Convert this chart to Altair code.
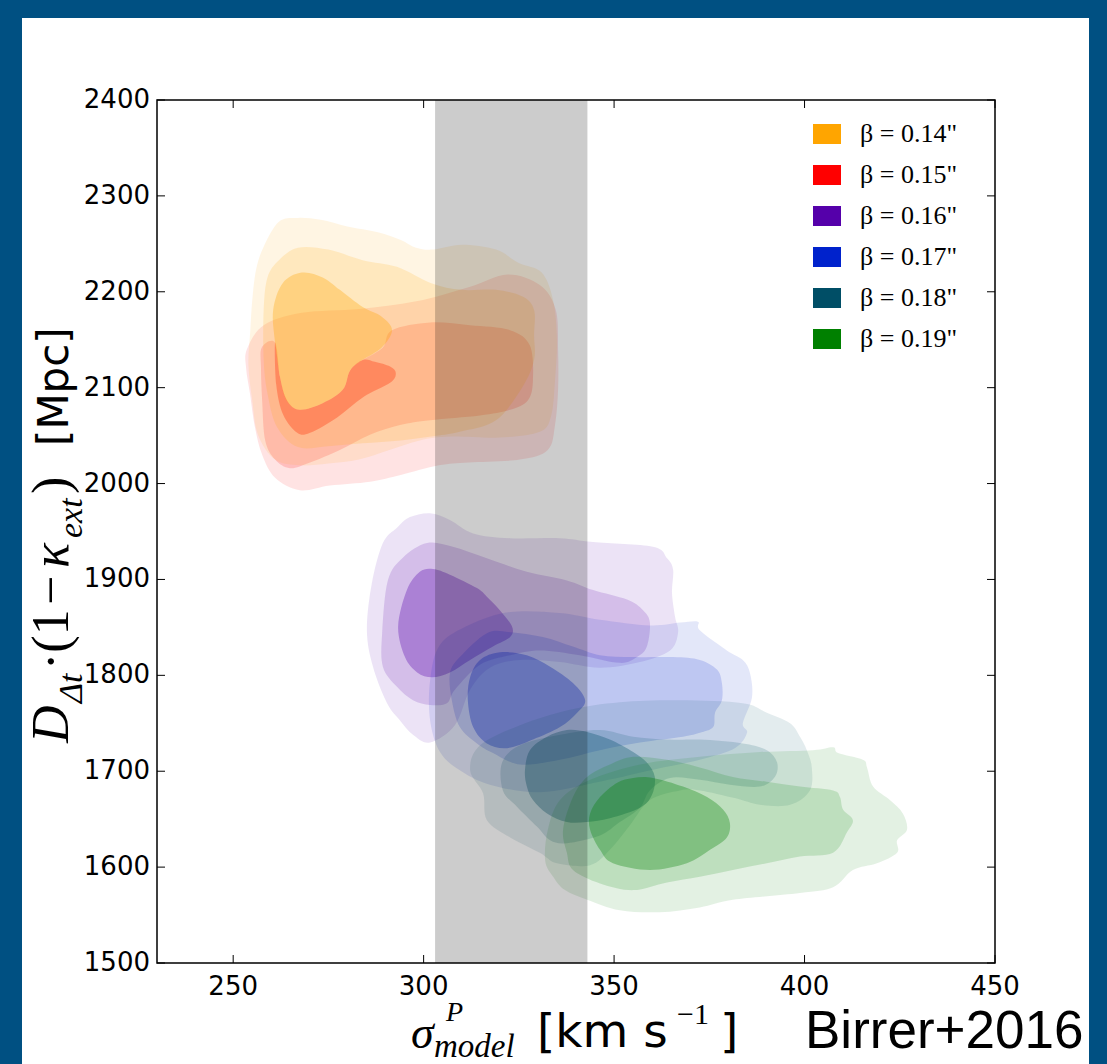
import altair as alt
import pandas as pd

# ---------------- data ----------------
X_TICKS = [250, 300, 350, 400, 450]
Y_TICKS = [1500, 1600, 1700, 1800, 1900, 2000, 2100, 2200, 2300, 2400]
X_DOMAIN = [230, 450]
Y_DOMAIN = [1500, 2400]
BAND = [303, 343]  # sigma_obs band [km/s]

LABELS = ['β = 0.14"', 'β = 0.15"', 'β = 0.16"', 'β = 0.17"', 'β = 0.18"', 'β = 0.19"']
COLORS = ["#ffa500", "#ff0000", "#5500aa", "#0022cc", "#004e66", "#008000"]

# contour polygons (sigma [km/s], D_dt [Mpc]) ; outer = 99%, mid = 95%, inner = 68%
B14_OUTER = [(258, 2247), (262, 2273), (267, 2277), (273, 2275), (280, 2268), (288, 2262), (294, 2254),
             (298, 2246), (302.5, 2244), (310, 2249), (319, 2244), (325, 2230), (331, 2220), (334, 2191),
             (335, 2150), (334.5, 2108), (333.5, 2071), (330.5, 2054), (320, 2048), (307, 2049), (299, 2045),
             (291, 2035), (283, 2025), (275, 2021), (267.5, 2019), (261, 2025), (256.5, 2051), (255, 2087),
             (254, 2124), (254.5, 2160), (255, 2191), (256, 2223)]
B14_MID = [(259, 2215), (262, 2233), (267, 2246), (275, 2244), (284, 2233), (293, 2226), (302, 2209),
           (310, 2202), (319, 2202), (326, 2195), (329, 2181), (329, 2155), (329, 2129), (326, 2101),
           (319, 2066), (309.5, 2054), (302, 2049), (294, 2045), (284, 2042), (275, 2039), (267, 2038),
           (261.5, 2059), (259, 2094), (258, 2129), (258, 2181)]
B14_INNER = [(260.5, 2181), (263, 2209), (268, 2220), (273.5, 2215), (278, 2202), (284, 2184), (289, 2174),
             (291.7, 2160), (289, 2142), (284, 2129), (280.7, 2118), (278.8, 2098), (273.6, 2084),
             (267.5, 2077), (264, 2087), (262.3, 2111), (261, 2147)]

B15_OUTER = [(253.6, 2140), (258, 2165), (268, 2178), (283, 2182), (298, 2190), (312, 2205), (322, 2218),
             (330.5, 2207), (334.7, 2181), (335.3, 2139), (335.3, 2098), (334.5, 2061), (332.6, 2035),
             (325.3, 2025), (312, 2022), (304, 2019), (294, 2009), (286, 2002), (275.4, 1998), (267.5, 1993),
             (261, 2006), (257.6, 2030), (255.7, 2059), (254.4, 2094), (253.4, 2120)]
# visible parts of the 95% / 68% regions (hidden above under the 0.14 core)
B15_MID = [(257.5, 2142), (261, 2147), (262.3, 2111), (264.1, 2087), (267.5, 2077), (273.6, 2084),
           (278.8, 2098), (280.7, 2118), (284.1, 2129), (289.3, 2142), (291.7, 2160), (301.7, 2168),
           (312.2, 2165), (322.7, 2160), (327.9, 2144), (328.7, 2108), (327.4, 2087), (322.7, 2077),
           (314.8, 2071), (301.7, 2066), (293.8, 2061), (285.9, 2051), (278, 2035), (270.2, 2022),
           (264.9, 2016), (261, 2025), (258.4, 2045), (257.6, 2087), (257.3, 2120)]
B15_INNER = [(261, 2147), (262.3, 2111), (264.1, 2087), (267.5, 2077), (273.6, 2084), (278.8, 2098),
             (280.7, 2118), (284.1, 2129), (287.2, 2127), (291.2, 2122), (292.7, 2115), (291.2, 2105),
             (284.1, 2090), (277.3, 2069), (270.2, 2053), (266.8, 2053), (263.1, 2072), (261.3, 2103)]

B16_OUTER = [(285.1, 1847), (286.4, 1896), (289.3, 1938), (293, 1954), (296.4, 1965), (301.7, 1969),
             (306.9, 1962), (313, 1948), (322.7, 1943), (335.8, 1943), (344.5, 1939), (360.2, 1934),
             (363.9, 1922), (365.5, 1910), (365.2, 1886), (366, 1861), (366.8, 1845), (364.7, 1826),
             (356.8, 1814), (346.3, 1808), (335.8, 1814), (325.3, 1816), (317.4, 1808), (312.2, 1785),
             (308.2, 1748), (301.7, 1730), (297.2, 1738), (293.8, 1753), (290.4, 1771), (286.7, 1809)]
B16_MID = [(289.1, 1844), (290.6, 1899), (294.6, 1923), (300.9, 1938), (307.7, 1934), (316.6, 1922),
           (327.1, 1908), (337.6, 1899), (344.5, 1889), (353.4, 1879), (357.6, 1868), (359.4, 1855),
           (358.6, 1830), (356, 1819), (351.5, 1813), (341, 1821), (330.5, 1826), (322.7, 1821),
           (314.8, 1811), (308.2, 1785), (306.1, 1771), (301.7, 1769), (297.2, 1774), (293, 1788),
           (289.3, 1809)]
B16_INNER = [(293.3, 1851), (295.6, 1889), (299, 1908), (302.5, 1911), (306.9, 1905), (314, 1891),
             (316.6, 1882), (320, 1868), (323.2, 1851), (322.7, 1840), (318.2, 1830), (312.2, 1816),
             (306.9, 1803), (302.2, 1798), (298.3, 1803), (295.1, 1819)]

B17_OUTER = [(301.7, 1795), (304.3, 1832), (312.2, 1853), (322.7, 1866), (335.8, 1865), (346.3, 1858),
             (359.4, 1852), (367.3, 1855), (372, 1856), (372.5, 1847), (379.6, 1826), (383.8, 1816),
             (385.7, 1802), (386.2, 1777), (383.8, 1750), (384.9, 1740), (381.7, 1724), (372.5, 1712),
             (362, 1703), (346.3, 1689), (330.5, 1678), (317.4, 1686), (309.5, 1701), (304.3, 1720),
             (301.7, 1753)]
B17_MID = [(306.9, 1802), (309.5, 1819), (316.6, 1844), (322.7, 1845), (331.3, 1840), (339.2, 1830),
           (346.3, 1821), (355, 1819), (365.5, 1819), (372.5, 1816), (377, 1806), (378.3, 1792),
           (378.3, 1774), (376.5, 1761), (376, 1746), (372.5, 1740), (368.1, 1736), (356.8, 1730),
           (346.3, 1722), (335.8, 1712), (325.3, 1707), (318.2, 1719), (314, 1729), (309.5, 1746),
           (307.4, 1774)]
B17_INNER = [(311.6, 1774), (312.2, 1798), (314.8, 1816), (320, 1824), (327.1, 1821), (333.2, 1809),
             (339.2, 1792), (342.4, 1774), (340.3, 1761), (335.8, 1746), (328.7, 1733), (321.9, 1724),
             (316.6, 1729), (313, 1746)]

B18_OUTER = [(312.2, 1701), (314.8, 1727), (325.3, 1748), (338.4, 1764), (351.5, 1772), (367.3, 1774),
             (383.8, 1771), (390.1, 1761), (396.2, 1750), (398.8, 1736), (400.6, 1722), (401.9, 1704),
             (401.4, 1680), (396.2, 1665), (388.3, 1665), (381.7, 1672), (372.5, 1680), (367.3, 1680),
             (359.4, 1670), (354.2, 1644), (348.9, 1618), (343.7, 1602), (335, 1604), (330.5, 1615),
             (322.7, 1631), (316.6, 1649), (315.6, 1677)]
B18_MID = [(320.6, 1709), (325.3, 1727), (335.8, 1738), (346.3, 1743), (355, 1736), (363.9, 1733),
           (372.5, 1733), (383.8, 1729), (390.1, 1722), (392.8, 1709), (392.2, 1694), (388.3, 1684),
           (380.4, 1686), (372.5, 1691), (364.7, 1693), (359.4, 1680), (356.8, 1662), (351.5, 1647),
           (346.3, 1633), (337.6, 1625), (333.2, 1628), (329.8, 1642), (324.5, 1663), (320.8, 1680)]
B18_INNER = [(326.6, 1701), (327.9, 1722), (332.4, 1736), (337.6, 1743), (342.9, 1741), (348.9, 1733),
             (355, 1720), (358.6, 1709), (360.7, 1694), (359.9, 1675), (356.8, 1662), (348.9, 1651),
             (342.9, 1647), (337.6, 1647), (332.4, 1656), (328.7, 1670), (327.1, 1684)]

B19_OUTER = [(331.9, 1607), (332.6, 1639), (335.8, 1670), (343.7, 1691), (356.8, 1707), (372.5, 1715),
             (388.3, 1720), (402.2, 1722), (407.5, 1725), (408.8, 1719), (415.3, 1712), (416.4, 1704),
             (418, 1684), (422.4, 1670), (425.8, 1656), (426.9, 1639), (424.3, 1628), (424.3, 1615),
             (419, 1604), (412.7, 1597), (407.5, 1579), (398.8, 1573), (381.2, 1566), (372.5, 1558),
             (362, 1553), (351.5, 1555), (342.9, 1566), (337.1, 1576), (334, 1590)]
B19_MID = [(336.6, 1639), (339.2, 1673), (342.9, 1694), (348.9, 1707), (355, 1715), (363.9, 1712),
           (372.5, 1704), (381.2, 1694), (390.1, 1689), (398.8, 1684), (407.5, 1680), (409.3, 1673),
           (410.1, 1660), (412.7, 1649), (411.1, 1636), (407.5, 1615), (398.8, 1611), (390.1, 1604),
           (381.2, 1597), (372.5, 1590), (363.9, 1584), (355, 1576), (346.3, 1583), (339.2, 1597),
           (337.6, 1615)]
B19_INNER = [(343.7, 1656), (346.3, 1673), (350.8, 1688), (355, 1693), (360.2, 1693), (368.1, 1684),
             (374.4, 1673), (378.6, 1660), (380.4, 1646), (379.6, 1631), (375.2, 1618), (369.1, 1604),
             (359.4, 1597), (349.7, 1604), (346.3, 1618), (343.7, 1639)]

CONTOURS = [
    (B14_OUTER, B14_MID, B14_INNER),
    (B15_OUTER, B15_MID, B15_INNER),
    (B16_OUTER, B16_MID, B16_INNER),
    (B17_OUTER, B17_MID, B17_INNER),
    (B18_OUTER, B18_MID, B18_INNER),
    (B19_OUTER, B19_MID, B19_INNER),
]

# ---------------- styling ----------------
LEVEL_OPACITY = [0.11, 0.16, 0.32]  # outer, mid, inner fill alpha
DRAW_RANK = [1, 0, 2, 3, 4, 5]      # 0.15 first, then 0.14, then 0.16 ... 0.19

rows = []
for bi, polys in enumerate(CONTOURS):
    for li, pts in enumerate(polys):
        pid = f"{DRAW_RANK[bi]}{li}"
        for i, (xv, yv) in enumerate(pts):
            rows.append({"beta": LABELS[bi], "op": LEVEL_OPACITY[li], "pid": pid, "i": i, "x": xv, "y": yv})
contour_df = pd.DataFrame(rows).sort_values(["pid", "i"]).reset_index(drop=True)

W, H = 838, 863
PAD = {"left": 157, "top": 100, "right": 112, "bottom": 101}
BORDER = "#005082"
one = pd.DataFrame({"k": [0]})

x_scale = alt.Scale(domain=X_DOMAIN, nice=False, zero=False)
y_scale = alt.Scale(domain=Y_DOMAIN, nice=False, zero=False)

legend = alt.Legend(orient="none", legendX=657, legendY=21, title=None,
                    symbolType="M-1.4,-1H1.4V1H-1.4Z", symbolSize=400, symbolOpacity=1,
                    symbolStrokeWidth=0, labelFont="Liberation Serif", labelFontSize=26,
                    labelColor="black", labelOffset=20, rowPadding=15, padding=0)

# blue slide border strips
border_left = alt.Chart(one).mark_rect(color=BORDER).encode(
    x=alt.value(-PAD["left"]), x2=alt.value(-135), y=alt.value(-PAD["top"]), y2=alt.value(H + PAD["bottom"]))
border_top = alt.Chart(one).mark_rect(color=BORDER).encode(
    x=alt.value(-PAD["left"]), x2=alt.value(W + PAD["right"]), y=alt.value(-PAD["top"]), y2=alt.value(-82))
border_right = alt.Chart(one).mark_rect(color=BORDER).encode(
    x=alt.value(932), x2=alt.value(W + PAD["right"]), y=alt.value(-PAD["top"]), y2=alt.value(H + PAD["bottom"]))

contours = alt.Chart(contour_df).mark_line(filled=True, interpolate="cardinal-closed", strokeWidth=0).encode(
    x=alt.X("x:Q", scale=x_scale, axis=None),
    y=alt.Y("y:Q", scale=y_scale, axis=None),
    color=alt.Color("beta:N", scale=alt.Scale(domain=LABELS, range=COLORS), legend=legend),
    opacity=alt.Opacity("op:Q", scale=None),
    detail="pid:N",
    order=alt.Order("i:Q"),
)

band = alt.Chart(pd.DataFrame({"lo": [BAND[0]], "hi": [BAND[1]]})).mark_rect(color="black", opacity=0.2).encode(
    x=alt.X("lo:Q", scale=x_scale, axis=None), x2="hi:Q")

xt = pd.DataFrame({"v": X_TICKS})
yt = pd.DataFrame({"v": Y_TICKS})
tick_bottom = alt.Chart(xt).mark_rule(color="black", strokeWidth=1).encode(
    x=alt.X("v:Q", scale=x_scale, axis=None), y=alt.value(H), y2=alt.value(H - 8))
tick_top = alt.Chart(xt).mark_rule(color="black", strokeWidth=1).encode(
    x=alt.X("v:Q", scale=x_scale, axis=None), y=alt.value(0), y2=alt.value(8))
tick_left = alt.Chart(yt).mark_rule(color="black", strokeWidth=1).encode(
    y=alt.Y("v:Q", scale=y_scale, axis=None), x=alt.value(0), x2=alt.value(8))
tick_right = alt.Chart(yt).mark_rule(color="black", strokeWidth=1).encode(
    y=alt.Y("v:Q", scale=y_scale, axis=None), x=alt.value(W - 8), x2=alt.value(W))

# tick labels drawn from the tick arrays
xlabels = alt.Chart(xt).mark_text(font="DejaVu Sans", fontSize=26, align="center", baseline="top",
                                  color="black").encode(
    x=alt.X("v:Q", scale=x_scale, axis=None), y=alt.value(H + 11), text=alt.Text("v:Q", format="d"))
ylabels = alt.Chart(yt).mark_text(font="DejaVu Sans", fontSize=26, align="right", baseline="middle",
                                  color="black").encode(
    y=alt.Y("v:Q", scale=y_scale, axis=None), x=alt.value(-7), text=alt.Text("v:Q", format="d"))

frame = alt.Chart(one).mark_rect(fill="transparent", stroke="black", strokeWidth=1.5).encode(
    x=alt.value(0), x2=alt.value(W), y=alt.value(0), y2=alt.value(H))


def txt(text, x, y, font="Liberation Serif", size=52, style="normal", angle=0):
    return alt.Chart(one).mark_text(text=text, font=font, fontSize=size, fontStyle=style, angle=angle,
                                    align="left", baseline="alphabetic", color="black").encode(
        x=alt.value(x), y=alt.value(y))


# y-axis title pieces: D_{Δt}·(1−κ_{ext}) [Mpc]
ytitle = [
    txt("D", -89, 643, size=52, style="italic", angle=270),
    txt("Δt", -75, 603, size=34, style="italic", angle=270),
    txt("·(1", -89, 570, size=52, angle=270),
    txt("−", -89, 505, size=52, angle=270),
    txt("κ", -89, 468, size=52, style="italic", angle=270),
    txt("ext", -75, 438, size=34, style="italic", angle=270),
    txt(")", -89, 394, size=52, angle=270),
    txt("[Mpc]", -89, 346, font="DejaVu Sans", size=42, angle=270),
]
# x-axis title pieces: σ^P_model [km s^-1]
xtitle = [
    txt("σ", 254, 948, size=46, style="italic"),
    txt("P", 289, 921, size=28, style="italic"),
    txt("model", 277, 957, size=33, style="italic"),
    txt("[km s", 380, 947, font="DejaVu Sans", size=47),
    txt("−1", 520, 924, size=30),
    txt("]", 563, 947, font="DejaVu Sans", size=47),
    txt("Birrer+2016", 648, 948, font="Liberation Sans", size=53),
]

chart = alt.layer(
    contours, band, tick_bottom, tick_top, tick_left, tick_right, frame,
    border_left, border_top, border_right, xlabels, ylabels, *ytitle, *xtitle
).properties(
    width=W, height=H, padding=PAD, autosize=alt.AutoSizeParams(type="none")
).configure(
    background="white"
).configure_view(
    strokeOpacity=0
)

chart.save("out.html", embed_options={"renderer": "svg", "actions": False})
